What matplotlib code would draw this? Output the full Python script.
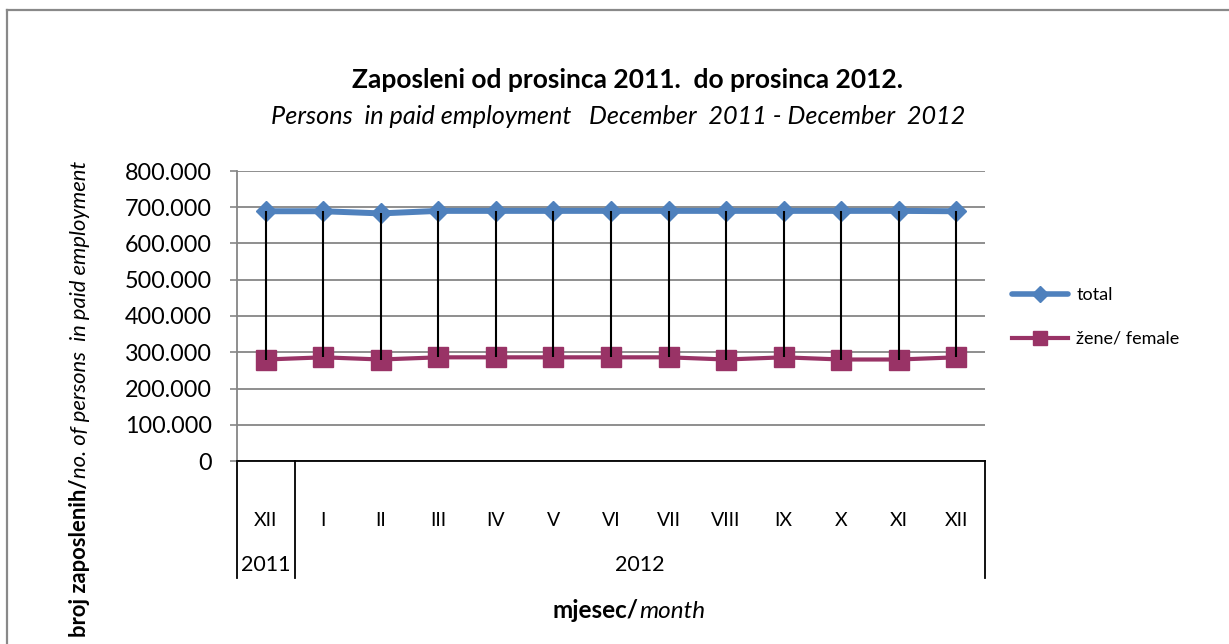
import matplotlib
matplotlib.use("Agg")
import matplotlib.pyplot as plt
from matplotlib.lines import Line2D

plt.rcParams['font.family'] = ['Lato', 'DejaVu Sans']

months = ["XII", "I", "II", "III", "IV", "V", "VI", "VII", "VIII", "IX", "X", "XI", "XII"]
years = ["2011", "2012"]
year_spans = [(0, 0), (1, 12)]
total = [689000, 689000, 683000, 690000, 690000, 690000, 690000, 690000, 690000, 690000, 690000, 690000, 689000]
female = [280000, 286000, 280000, 286000, 286000, 286000, 286000, 286000, 280000, 286000, 280000, 280000, 286000]
yticks = [0, 100000, 200000, 300000, 400000, 500000, 600000, 700000, 800000]
ytick_labels = ["0", "100.000", "200.000", "300.000", "400.000", "500.000", "600.000", "700.000", "800.000"]

W, H = 1229, 644
fig = plt.figure(figsize=(W / 100, H / 100), dpi=100)

def fx(x):
    return x / W

def fy(y):
    return 1 - y / H

# outer chart border (cropped)
fig.add_artist(Line2D([fx(7), 1.0], [fy(10), fy(10)], color="#898989", lw=1.6))
fig.add_artist(Line2D([fx(7), fx(7)], [fy(10), 0.0], color="#898989", lw=1.6))

L, R, T, B = 237, 985, 171, 461
ax = fig.add_axes([fx(L), fy(B), fx(R - L), (B - T) / H])

x = list(range(len(months)))
blue = "#4F81BD"
purple = "#993366"

ax.plot(x, total, color=blue, lw=4.3, marker="D", markersize=10, zorder=3,
        solid_capstyle="round")
ax.plot(x, female, color=purple, lw=3.0, marker="s", markersize=14, zorder=3,
        markeredgecolor=purple)
ax.vlines(x, female, total, color="black", lw=1.5, zorder=4)

ax.set_xlim(-0.5, len(months) - 0.5)
ax.set_ylim(0, 800000)
ax.set_yticks(yticks)
ax.set_yticklabels(ytick_labels, fontsize=16.8)
ax.yaxis.grid(True, color="#868686", lw=1.3)
ax.set_axisbelow(True)
ax.tick_params(axis="y", length=5, width=1.2, color="#868686", pad=13)
ax.set_xticks([])
for s in ["top", "right"]:
    ax.spines[s].set_visible(False)
ax.spines["left"].set_color("#868686")
ax.spines["left"].set_linewidth(1.3)
ax.spines["bottom"].set_color("black")
ax.spines["bottom"].set_linewidth(1.3)

xt = ax.get_xaxis_transform()
def ay(ypix):
    return (B - ypix) / (B - T)

for i, m in enumerate(months):
    ax.text(i, ay(521), m, transform=xt, ha="center", va="center", fontsize=14)

for (a, b), yr in zip(year_spans, years):
    ax.text((a + b) / 2, ay(565), yr, transform=xt, ha="center", va="center", fontsize=15.5)

for sep in [-0.5, 0.5, len(months) - 0.5]:
    ax.plot([sep, sep], [0, ay(578)], transform=xt, color="black", lw=1.3, clip_on=False)

# titles
fig.text(fx(627), fy(80), "Zaposleni od prosinca 2011.  do prosinca 2012.", ha="center",
         va="center", fontsize=19, fontweight="bold")
fig.text(fx(618), fy(116), "Persons  in paid employment   December  2011 - December  2012",
         ha="center", va="center", fontsize=18.2, style="italic")

fig.canvas.draw()
renderer = fig.canvas.get_renderer()

# x label: bold + italic
t1 = fig.text(fx(553), fy(611), "mjesec/", ha="left", va="center", fontsize=17.5, fontweight="bold")
fig.canvas.draw()
ext = t1.get_window_extent(renderer)
fig.text(ext.x1 / W, fy(611), "month", ha="left", va="center", fontsize=17.5, style="italic")

# y label: bold + italic rotated
t2 = fig.text(fx(80), fy(637), "broj zaposlenih/", ha="center", va="bottom", rotation=90,
              fontsize=15.8, fontweight="bold")
fig.canvas.draw()
ext2 = t2.get_window_extent(renderer)
fig.text(fx(80), ext2.y1 / H, "no. of persons  in paid employment", ha="center", va="bottom",
         rotation=90, fontsize=15.8, style="italic")

handles = [
    Line2D([], [], color=blue, lw=4.0, marker="D", markersize=8, solid_capstyle="round"),
    Line2D([], [], color=purple, lw=3.0, marker="s", markersize=10),
]
fig.legend(handles, ["total", "žene/ female"], loc="upper left",
           bbox_to_anchor=(fx(1012), fy(287)), frameon=False, fontsize=13,
           handlelength=3.1, handletextpad=0.45, labelspacing=1.55,
           borderpad=0, borderaxespad=0)

fig.savefig("out.png", dpi=100)
